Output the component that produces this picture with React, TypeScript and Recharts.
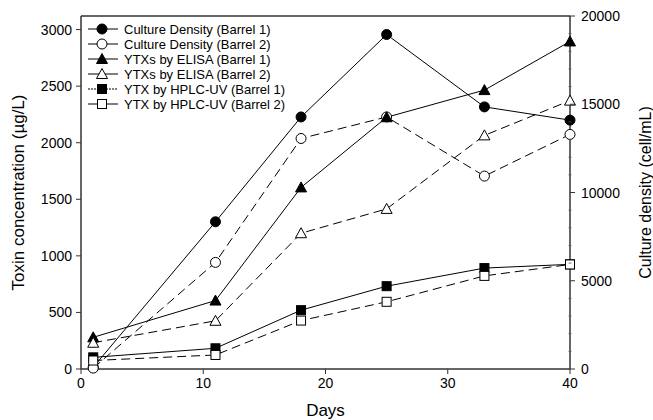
import { LineChart, Line, XAxis, YAxis, ReferenceLine } from "recharts";

const days = [1, 11, 18, 25, 33, 40];
const densityB1 = [100, 8340, 14280, 18950, 14850, 14100];
const densityB2 = [50, 6040, 13060, 14280, 10930, 13290];
const elisaB1 = [280, 605, 1605, 2225, 2465, 2895];
const elisaB2 = [232, 426, 1200, 1415, 2065, 2372];
const hplcB1 = [103, 183, 520, 732, 892, 925];
const hplcB2 = [75, 124, 428, 594, 823, 924];

const xTicks = [0, 10, 20, 30, 40];
const leftTicks = [0, 500, 1000, 1500, 2000, 2500, 3000];
const rightTicks = Array.from({ length: 21 }, (_, i) => i * 1000);

const data = days.map((d, i) => ({
  day: d,
  dB1: densityB1[i],
  dB2: densityB2[i],
  eB1: elisaB1[i],
  eB2: elisaB2[i],
  hB1: hplcB1[i],
  hB2: hplcB2[i],
}));

type Shape = "circle" | "triangle" | "square";

const series = [
  { key: "dB1", name: "Culture Density (Barrel 1)", axis: "right", shape: "circle" as Shape, filled: true },
  { key: "dB2", name: "Culture Density (Barrel 2)", axis: "right", shape: "circle" as Shape, filled: false },
  { key: "eB1", name: "YTXs by ELISA (Barrel 1)", axis: "left", shape: "triangle" as Shape, filled: true },
  { key: "eB2", name: "YTXs by ELISA (Barrel 2)", axis: "left", shape: "triangle" as Shape, filled: false },
  { key: "hB1", name: "YTX by HPLC-UV (Barrel 1)", axis: "left", shape: "square" as Shape, filled: true },
  { key: "hB2", name: "YTX by HPLC-UV (Barrel 2)", axis: "left", shape: "square" as Shape, filled: false },
];

const DASH = "9 5";
const FONT = "'Liberation Sans', Arial, sans-serif";

const Marker = ({ cx, cy, shape, filled }: { cx: number; cy: number; shape: Shape; filled: boolean }) => {
  const fill = filled ? "#000" : "#fff";
  if (shape === "circle") return <circle cx={cx} cy={cy} r={5} fill={fill} stroke="#000" strokeWidth={1} />;
  if (shape === "triangle")
    return (
      <polygon
        points={`${cx},${cy - 5.5} ${cx - 5.5},${cy + 4.5} ${cx + 5.5},${cy + 4.5}`}
        fill={fill}
        stroke="#000"
        strokeWidth={1}
      />
    );
  return <rect x={cx - 4.5} y={cy - 4.5} width={9} height={9} fill={fill} stroke="#000" strokeWidth={1} />;
};

// legend sits inside the plot, top-left; short solid sample lines
const LegendBox = () => (
  <svg width={260} height={100} style={{ position: "absolute", left: 85, top: 22, fontFamily: FONT }}>
    {series.map((s, i) => {
      const y = 7 + i * 15;
      return (
        <g key={s.key}>
          <line x1={3} x2={33} y1={y} y2={y} stroke="#000" strokeWidth={1} strokeDasharray={s.key === "hB1" ? "2 1" : undefined} />
          <Marker cx={17} cy={y} shape={s.shape} filled={s.filled} />
          <text x={39} y={y + 4.5} fontSize={13} fill="#000">
            {s.name}
          </text>
        </g>
      );
    })}
  </svg>
);

const RightTick = (p: any) => {
  const v = p.payload.value;
  const ax = p.x - 11;
  const major = v % 5000 === 0;
  return (
    <g>
      {major ? (
        <line x1={ax} x2={ax + 5} y1={p.y} y2={p.y} stroke="#333" strokeWidth={1} />
      ) : (
        <line x1={ax - 1.5} x2={ax + 1.5} y1={p.y} y2={p.y} stroke="#555" strokeWidth={0.8} />
      )}
      {major && (
        <text x={p.x} y={p.y} dy={5} fontSize={14} fill="#000" textAnchor="start" fontFamily={FONT}>
          {v}
        </text>
      )}
    </g>
  );
};

export default function App() {
  return (
    <div style={{ position: "absolute", left: 0, top: 0, width: 653, height: 420, background: "#fff" }}>
      <LineChart width={653} height={420} data={data} margin={{ top: 16, right: 0, bottom: 0, left: 0 }}>
        <XAxis
          dataKey="day"
          type="number"
          domain={[0, 40]}
          ticks={xTicks}
          height={51}
          tickSize={5}
          tickMargin={4}
          axisLine={{ stroke: "#333", strokeWidth: 1.5 }}
          tickLine={{ stroke: "#333" }}
          tick={{ fontSize: 14, fill: "#000", fontFamily: FONT }}
          label={{ value: "Days", position: "insideBottom", offset: 4, fontSize: 17, fill: "#000", fontFamily: FONT }}
        />
        <YAxis
          yAxisId="left"
          domain={[0, 3120]}
          ticks={leftTicks}
          width={81}
          tickSize={5}
          tickMargin={4}
          axisLine={{ stroke: "#333", strokeWidth: 1.5 }}
          tickLine={{ stroke: "#333" }}
          tick={{ fontSize: 14, fill: "#000", fontFamily: FONT }}
          label={{
            value: "Toxin concentration (µg/L)",
            angle: -90,
            position: "insideLeft",
            offset: 18,
            fontSize: 17,
            fill: "#000",
            fontFamily: FONT,
            style: { textAnchor: "middle" },
          }}
        />
        <YAxis
          yAxisId="right"
          orientation="right"
          domain={[0, 20000]}
          ticks={rightTicks}
          interval={0}
          width={83}
          tickSize={5}
          tickMargin={6}
          axisLine={{ stroke: "#333", strokeWidth: 1.5 }}
          tickLine={false}
          tick={RightTick}
          label={{
            value: "Culture density (cell/mL)",
            angle: -90,
            position: "insideRight",
            offset: 8,
            fontSize: 16,
            fill: "#000",
            fontFamily: FONT,
            style: { textAnchor: "middle" },
          }}
        />
        <ReferenceLine yAxisId="right" y={20000} stroke="#333" strokeWidth={1.5} />
        {series.map((s) => (
          <Line
            key={s.key}
            yAxisId={s.axis}
            dataKey={s.key}
            name={s.name}
            stroke="#000"
            strokeWidth={1}
            strokeDasharray={s.filled ? undefined : DASH}
            isAnimationActive={false}
            dot={(p: any) => <Marker key={`${s.key}-${p.index}`} cx={p.cx} cy={p.cy} shape={s.shape} filled={s.filled} />}
            activeDot={false}
          />
        ))}
      </LineChart>
      <LegendBox />
    </div>
  );
}
